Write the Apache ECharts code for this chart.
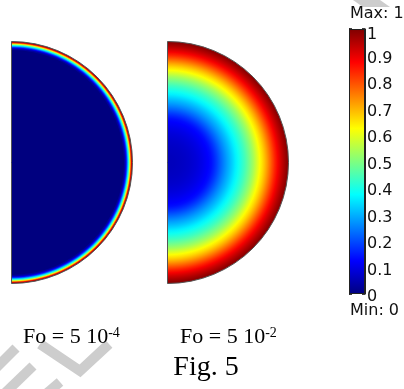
<!DOCTYPE html>
<html>
<head>
<meta charset="utf-8">
<script src="https://cdn.jsdelivr.net/npm/echarts@6/dist/echarts.min.js"></script>
<style>
  html, body { margin: 0; padding: 0; background: #ffffff; }
  #chart { width: 404px; height: 389px; }
</style>
</head>
<body>
<div id="chart"></div>
<script>
// Dimensionless temperature T(r/R) in a half cross-section at two Fourier numbers.
// Each ring runs from the previous radius to the listed outer radius.

// Fo = 5e-4 : thin heated layer at the wall, cold core
const earlyRadius = [0.93, 0.94, 0.945, 0.95, 0.955, 0.96, 0.965, 0.97, 0.975, 0.98, 0.985, 0.99, 0.995, 1.0];
const earlyTemp   = [0.00, 0.03, 0.08, 0.13, 0.19, 0.26, 0.34, 0.41, 0.49, 0.60, 0.71, 0.84, 0.93, 0.99];

// Fo = 5e-2 : heat has reached the centre
const lateRadius = [0.025, 0.05, 0.075, 0.10, 0.125, 0.15, 0.175, 0.20, 0.225, 0.25,
                    0.275, 0.30, 0.325, 0.35, 0.375, 0.40, 0.425, 0.45, 0.475, 0.50,
                    0.525, 0.55, 0.575, 0.60, 0.625, 0.65, 0.675, 0.70, 0.725, 0.75,
                    0.775, 0.80, 0.825, 0.85, 0.875, 0.90, 0.925, 0.95, 0.975, 1.00];
const lateTemp   = [0.060, 0.060, 0.061, 0.063, 0.065, 0.068, 0.072, 0.076, 0.082, 0.088,
                    0.096, 0.104, 0.114, 0.124, 0.138, 0.162, 0.190, 0.220, 0.250, 0.278,
                    0.305, 0.332, 0.360, 0.388, 0.413, 0.440, 0.472, 0.505, 0.540, 0.582,
                    0.622, 0.660, 0.702, 0.748, 0.795, 0.842, 0.885, 0.922, 0.955, 0.985];

const panelLabels = [['Fo = 5 10', '-4'], ['Fo = 5 10', '-2']];
const scaleMin = 0, scaleMax = 1, scaleStep = 0.1;

// jet colour ramp, evenly spaced samples
const jet = ['#00007f', '#0000ff', '#007fff', '#00ffff', '#7fff7f',
             '#ffff00', '#ff7f00', '#ff0000', '#7f0000'];

const HALF_TURN = 180;

function ringData(radius, temp) {
  // outermost ring first so each smaller disc is painted over the larger one
  return radius.map((r, i) => [r, HALF_TURN, temp[i]]).reverse();
}

// pixel radius and start/end angles of a half disc through the polar axes
function halfDisc(params, api, rv, span) {
  const cs = params.coordSys;
  const edge = api.coord([rv, 0]);
  const end = api.coord([rv, span]);
  return {
    r: Math.hypot(edge[0] - cs.cx, edge[1] - cs.cy),
    a0: Math.atan2(edge[1] - cs.cy, edge[0] - cs.cx),
    a1: Math.atan2(end[1] - cs.cy, end[0] - cs.cx)
  };
}

function renderRing(params, api) {
  const cs = params.coordSys;
  const i = params.dataIndexInside;
  const n = params.dataInsideLength;
  const span = api.value(1);
  const outer = halfDisc(params, api, api.value(0), span);
  const rOut = outer.r;
  const c = api.visual('color');
  let fill = c;
  if (i + 1 < n) {
    // smooth shading between neighbouring rings
    const rIn = halfDisc(params, api, api.value(0, i + 1), span).r;
    const rInIn = i + 2 < n ? halfDisc(params, api, api.value(0, i + 2), span).r : 0;
    const mid = (rIn + rOut) / 2;
    const midIn = (rInIn + rIn) / 2;
    const cIn = api.visual('color', i + 1);
    const cOut = i > 0 ? api.visual('color', i - 1) : c;
    fill = new echarts.graphic.RadialGradient(cs.cx, cs.cy, rOut, [
      { offset: midIn / rOut, color: cIn },
      { offset: mid / rOut, color: c },
      { offset: 1, color: i > 0 ? echarts.color.lerp(0.5, [c, cOut]) : c }
    ], true);
  }
  return {
    type: 'sector',
    shape: { cx: cs.cx, cy: cs.cy, r0: 0, r: rOut, startAngle: outer.a0, endAngle: outer.a1, clockwise: true },
    style: { fill: fill, stroke: null }
  };
}

function renderOutline(params, api) {
  const cs = params.coordSys;
  const d = halfDisc(params, api, api.value(0), api.value(1));
  return {
    type: 'sector',
    shape: { cx: cs.cx, cy: cs.cy, r0: 0, r: d.r, startAngle: d.a0, endAngle: d.a1, clockwise: true },
    style: { fill: null, stroke: '#555555', lineWidth: 1 }
  };
}

const angleAxisFor = (idx) => ({ polarIndex: idx, type: 'value', min: 0, max: 360, startAngle: 90, clockwise: true, show: false });
const radiusAxisFor = (idx) => ({ polarIndex: idx, type: 'value', min: 0, max: 1, show: false });

const chart = echarts.init(document.getElementById('chart'), null, { renderer: 'canvas' });

const labelFont = 'Liberation Serif';
const scaleFont = 'DejaVu Sans';
const supRich = {
  m: { fontFamily: labelFont, fontSize: 22, lineHeight: 22, color: '#222' },
  s: { fontFamily: labelFont, fontSize: 14, lineHeight: 17, color: '#222', verticalAlign: 'top' }
};

const option = {
  animation: false,
  backgroundColor: '#ffffff',
  polar: [
    { center: [11.5, 162.5], radius: 121 },
    { center: [167.5, 162.5], radius: 121 }
  ],
  angleAxis: [angleAxisFor(0), angleAxisFor(1)],
  radiusAxis: [radiusAxisFor(0), radiusAxisFor(1)],
  grid: { left: 349, top: 29, width: 16, height: 265 },
  xAxis: { type: 'category', data: ['T'], show: false },
  yAxis: [
    {
      type: 'value', position: 'right', min: scaleMin, max: scaleMax, interval: scaleStep,
      splitLine: { show: false },
      axisLine: { show: true, lineStyle: { color: '#222', width: 1 } },
      axisTick: { show: true, inside: true, length: 3, lineStyle: { color: '#000', width: 1.5 } },
      axisLabel: {
        show: true, margin: 2,
        // labels sit a little below their ticks; the top one is kept clear of the bar's edge
        formatter: (v) => (v === scaleMax ? '{t|' + v + '}' : '{a|' + v + '}'),
        rich: {
          a: { color: '#111', fontFamily: scaleFont, fontSize: 16, padding: [6, 0, 0, 0] },
          t: { color: '#111', fontFamily: scaleFont, fontSize: 16, padding: [12, 0, 0, 0] }
        }
      }
    },
    {
      type: 'value', position: 'left', min: scaleMin, max: scaleMax, interval: scaleStep,
      splitLine: { show: false },
      axisLine: { show: true, lineStyle: { color: '#222', width: 1 } },
      axisTick: { show: true, inside: true, length: 3, lineStyle: { color: '#000', width: 1.5 } },
      axisLabel: { show: false }
    }
  ],
  visualMap: {
    type: 'continuous', show: false, min: scaleMin, max: scaleMax,
    dimension: 2, seriesIndex: [0, 1],
    inRange: { color: jet }
  },
  series: [
    {
      type: 'custom', coordinateSystem: 'polar', polarIndex: 0,
      encode: { radius: 0, angle: 1 },
      renderItem: renderRing, data: ringData(earlyRadius, earlyTemp), silent: true
    },
    {
      type: 'custom', coordinateSystem: 'polar', polarIndex: 1,
      encode: { radius: 0, angle: 1 },
      renderItem: renderRing, data: ringData(lateRadius, lateTemp), silent: true
    },
    {
      type: 'custom', coordinateSystem: 'polar', polarIndex: 0,
      encode: { radius: 0, angle: 1 },
      renderItem: renderOutline, data: [[1, HALF_TURN]], silent: true, z: 3
    },
    {
      type: 'custom', coordinateSystem: 'polar', polarIndex: 1,
      encode: { radius: 0, angle: 1 },
      renderItem: renderOutline, data: [[1, HALF_TURN]], silent: true, z: 3
    },
    {
      // colour scale swatch spanning the full range
      type: 'bar', xAxisIndex: 0, yAxisIndex: 0, data: [scaleMax], barWidth: '100%',
      silent: true,
      itemStyle: {
        color: new echarts.graphic.LinearGradient(0, 1, 0, 0,
          jet.map((c, i) => ({ offset: i / (jet.length - 1), color: c }))),
        borderColor: '#222', borderWidth: 1
      }
    }
  ],
  graphic: [
    // light grey diagonal marks in the background
    { type: 'polyline', z: 0, shape: { points: [[-6, 370], [16, 348]] },
      style: { stroke: '#cdcdcd', lineWidth: 10, fill: null } },
    { type: 'polyline', z: 0, shape: { points: [[40, 344], [80, 371], [109, 344]] },
      style: { stroke: '#cdcdcd', lineWidth: 10, fill: null } },
    { type: 'polyline', z: 0, shape: { points: [[4, 394], [33, 366]] },
      style: { stroke: '#cdcdcd', lineWidth: 10, fill: null } },
    { type: 'polyline', z: 0, shape: { points: [[46, 394], [60, 382]] },
      style: { stroke: '#cdcdcd', lineWidth: 10, fill: null } },
    { type: 'polygon', z: 0, shape: { points: [[353, 0], [380, 0], [390, 7], [363, 7]] },
      style: { fill: '#cdcdcd' } },

    { type: 'text', z: 10, x: 350, y: 14,
      style: { text: 'Max: ' + scaleMax, font: '16px "' + scaleFont + '"', fill: '#111',
               align: 'left', verticalAlign: 'middle' } },
    { type: 'text', z: 10, x: 350, y: 311,
      style: { text: 'Min: ' + scaleMin, font: '16px "' + scaleFont + '"', fill: '#111',
               align: 'left', verticalAlign: 'middle' } },

    { type: 'text', z: 10, x: 23, y: 337,
      style: { text: '{m|' + panelLabels[0][0] + '}{s|' + panelLabels[0][1] + '}',
               align: 'left', verticalAlign: 'middle', rich: supRich } },
    { type: 'text', z: 10, x: 180, y: 337,
      style: { text: '{m|' + panelLabels[1][0] + '}{s|' + panelLabels[1][1] + '}',
               align: 'left', verticalAlign: 'middle', rich: supRich } },
    { type: 'text', z: 10, x: 206, y: 368,
      style: { text: 'Fig. 5', font: '28px "' + labelFont + '"', fill: '#000',
               align: 'center', verticalAlign: 'middle' } }
  ]
};

chart.setOption(option);
</script>
</body>
</html>
